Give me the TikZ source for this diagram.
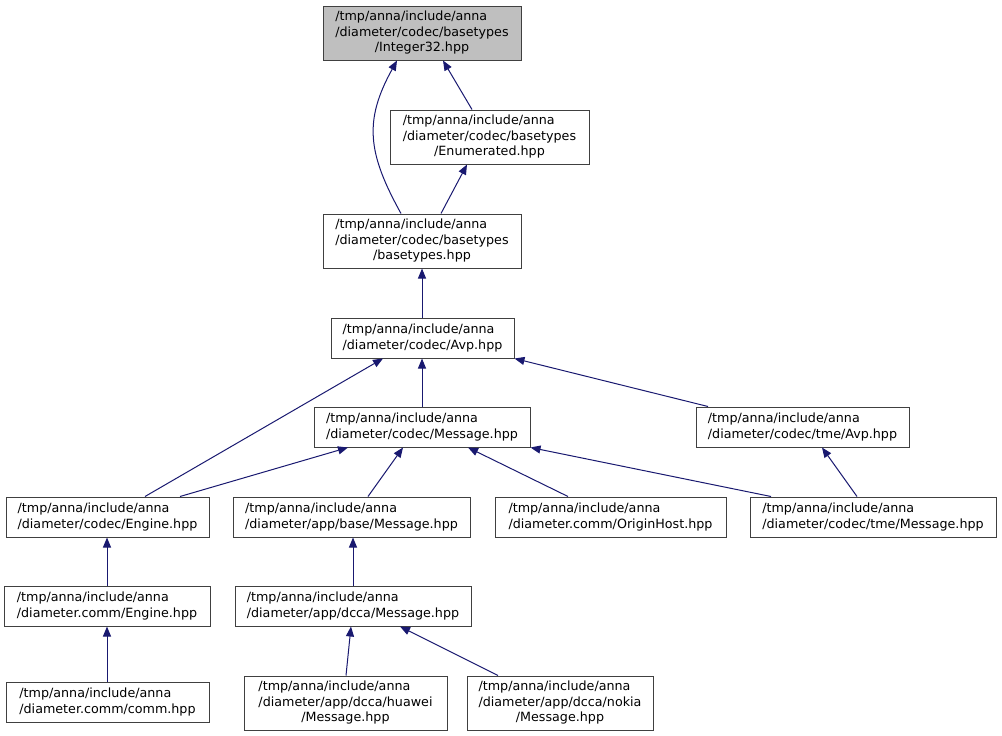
\documentclass[tikz,border=0pt]{standalone}
\usepackage{fontspec}
\setmainfont{DejaVu Sans}
\usepackage{tikz}
\usetikzlibrary{positioning,arrows.meta}
\definecolor{edgeblue}{RGB}{25,25,112}
\definecolor{boxgray}{RGB}{191,191,191}
\newcommand{\hdrtext}[3]{\begin{tabular}{@{}l@{}}#1\\#2\\\multicolumn{1}{@{}c@{}}{#3}\end{tabular}}

\begin{document}
\begin{tikzpicture}[
  x=1pt, y=1pt,
  header/.style={draw=black!75,line width=1pt,fill=white,inner sep=0pt,
    font=\fontsize{12.7}{15.5}\selectfont,align=left},
  target/.style={header,fill=boxgray},
  incl/.style={-{Triangle[length=10pt,width=8pt]},line width=1pt,draw=edgeblue}
]
\useasboundingbox (0,0) rectangle (1002,-736);

% Level zero
\node[target,minimum width=198,minimum height=54] (I32) at (422,-33)
  {\hdrtext{/tmp/anna/include/anna}{/diameter/codec/basetypes}{/Integer32.hpp}};

% Basetypes
\node[header,minimum width=199,minimum height=54] (Enum) at (489.5,-137)
  {\hdrtext{/tmp/anna/include/anna}{/diameter/codec/basetypes}{/Enumerated.hpp}};
\node[header,minimum width=198,minimum height=54] (Base) at (422,-241)
  {\hdrtext{/tmp/anna/include/anna}{/diameter/codec/basetypes}{/basetypes.hpp}};

% Codec
\node[header,minimum width=183,minimum height=40] (Avp) at (422.5,-338)
  {/tmp/anna/include/anna\\/diameter/codec/Avp.hpp};
\node[header,minimum width=216,minimum height=40] (CMsg) at (422,-427)
  {/tmp/anna/include/anna\\/diameter/codec/Message.hpp};
\node[header,minimum width=213,minimum height=40] (TAvp) at (802.5,-427)
  {/tmp/anna/include/anna\\/diameter/codec/tme/Avp.hpp};

% Fourth row
\node[header,minimum width=203,minimum height=40] (CEng) at (107.5,-517)
  {/tmp/anna/include/anna\\/diameter/codec/Engine.hpp};
\node[header,minimum width=237,minimum height=40] (BMsg) at (351.5,-517)
  {/tmp/anna/include/anna\\/diameter/app/base/Message.hpp};
\node[header,minimum width=231,minimum height=40] (OHost) at (610.5,-517)
  {/tmp/anna/include/anna\\/diameter.comm/OriginHost.hpp};
\node[header,minimum width=246,minimum height=40] (TMsg) at (873,-517)
  {/tmp/anna/include/anna\\/diameter/codec/tme/Message.hpp};

% Fifth row
\node[header,minimum width=206,minimum height=40] (CommEng) at (107,-606)
  {/tmp/anna/include/anna\\/diameter.comm/Engine.hpp};
\node[header,minimum width=236,minimum height=40] (DMsg) at (353,-606)
  {/tmp/anna/include/anna\\/diameter/app/dcca/Message.hpp};

% Bottom row
\node[header,minimum width=203,minimum height=40] (Comm) at (107.5,-702)
  {/tmp/anna/include/anna\\/diameter.comm/comm.hpp};
\node[header,minimum width=203,minimum height=54] (Huawei) at (345.5,-703)
  {\hdrtext{/tmp/anna/include/anna}{/diameter/app/dcca/huawei}{/Message.hpp}};
\node[header,minimum width=186,minimum height=54] (Nokia) at (560,-703)
  {\hdrtext{/tmp/anna/include/anna}{/diameter/app/dcca/nokia}{/Message.hpp}};

% Include edges
\draw[incl] ([xshift=-17.5]Enum.north) -- ([xshift=21]I32.south);
\draw[incl] ([xshift=-21]Base.north) to[out=119,in=-119,looseness=1.15] ([xshift=-25]I32.south);
\draw[incl] ([xshift=19]Base.north) -- ([xshift=-22.5]Enum.south);
\draw[incl] ([xshift=-0.5]Avp.north) -- (Base.south);
\draw[incl] (CMsg.north) -- ([xshift=-0.5]Avp.south);
\draw[incl] ([xshift=-94.5]TAvp.north) -- (Avp.south east);
\draw[incl] ([xshift=37.5]CEng.north) -- ([xshift=-39.5]Avp.south);
\draw[incl] ([xshift=72.5]CEng.north) -- ([xshift=-74]CMsg.south);
\draw[incl] ([xshift=16.5]BMsg.north) -- ([xshift=-19]CMsg.south);
\draw[incl] ([xshift=-42.5]OHost.north) -- ([xshift=46]CMsg.south);
\draw[incl] ([xshift=-102]TMsg.north) -- (CMsg.south east);
\draw[incl] ([xshift=-16]TMsg.north) -- ([xshift=19.5]TAvp.south);
\draw[incl] (CommEng.north) -- ([xshift=-0.5]CEng.south);
\draw[incl] (DMsg.north) -- ([xshift=1.5]BMsg.south);
\draw[incl] ([xshift=-0.5]Comm.north) -- (CommEng.south);
\draw[incl] ([xshift=0.5]Huawei.north) -- ([xshift=-2]DMsg.south);
\draw[incl] ([xshift=-62]Nokia.north) -- ([xshift=47]DMsg.south);

\end{tikzpicture}
\end{document}
